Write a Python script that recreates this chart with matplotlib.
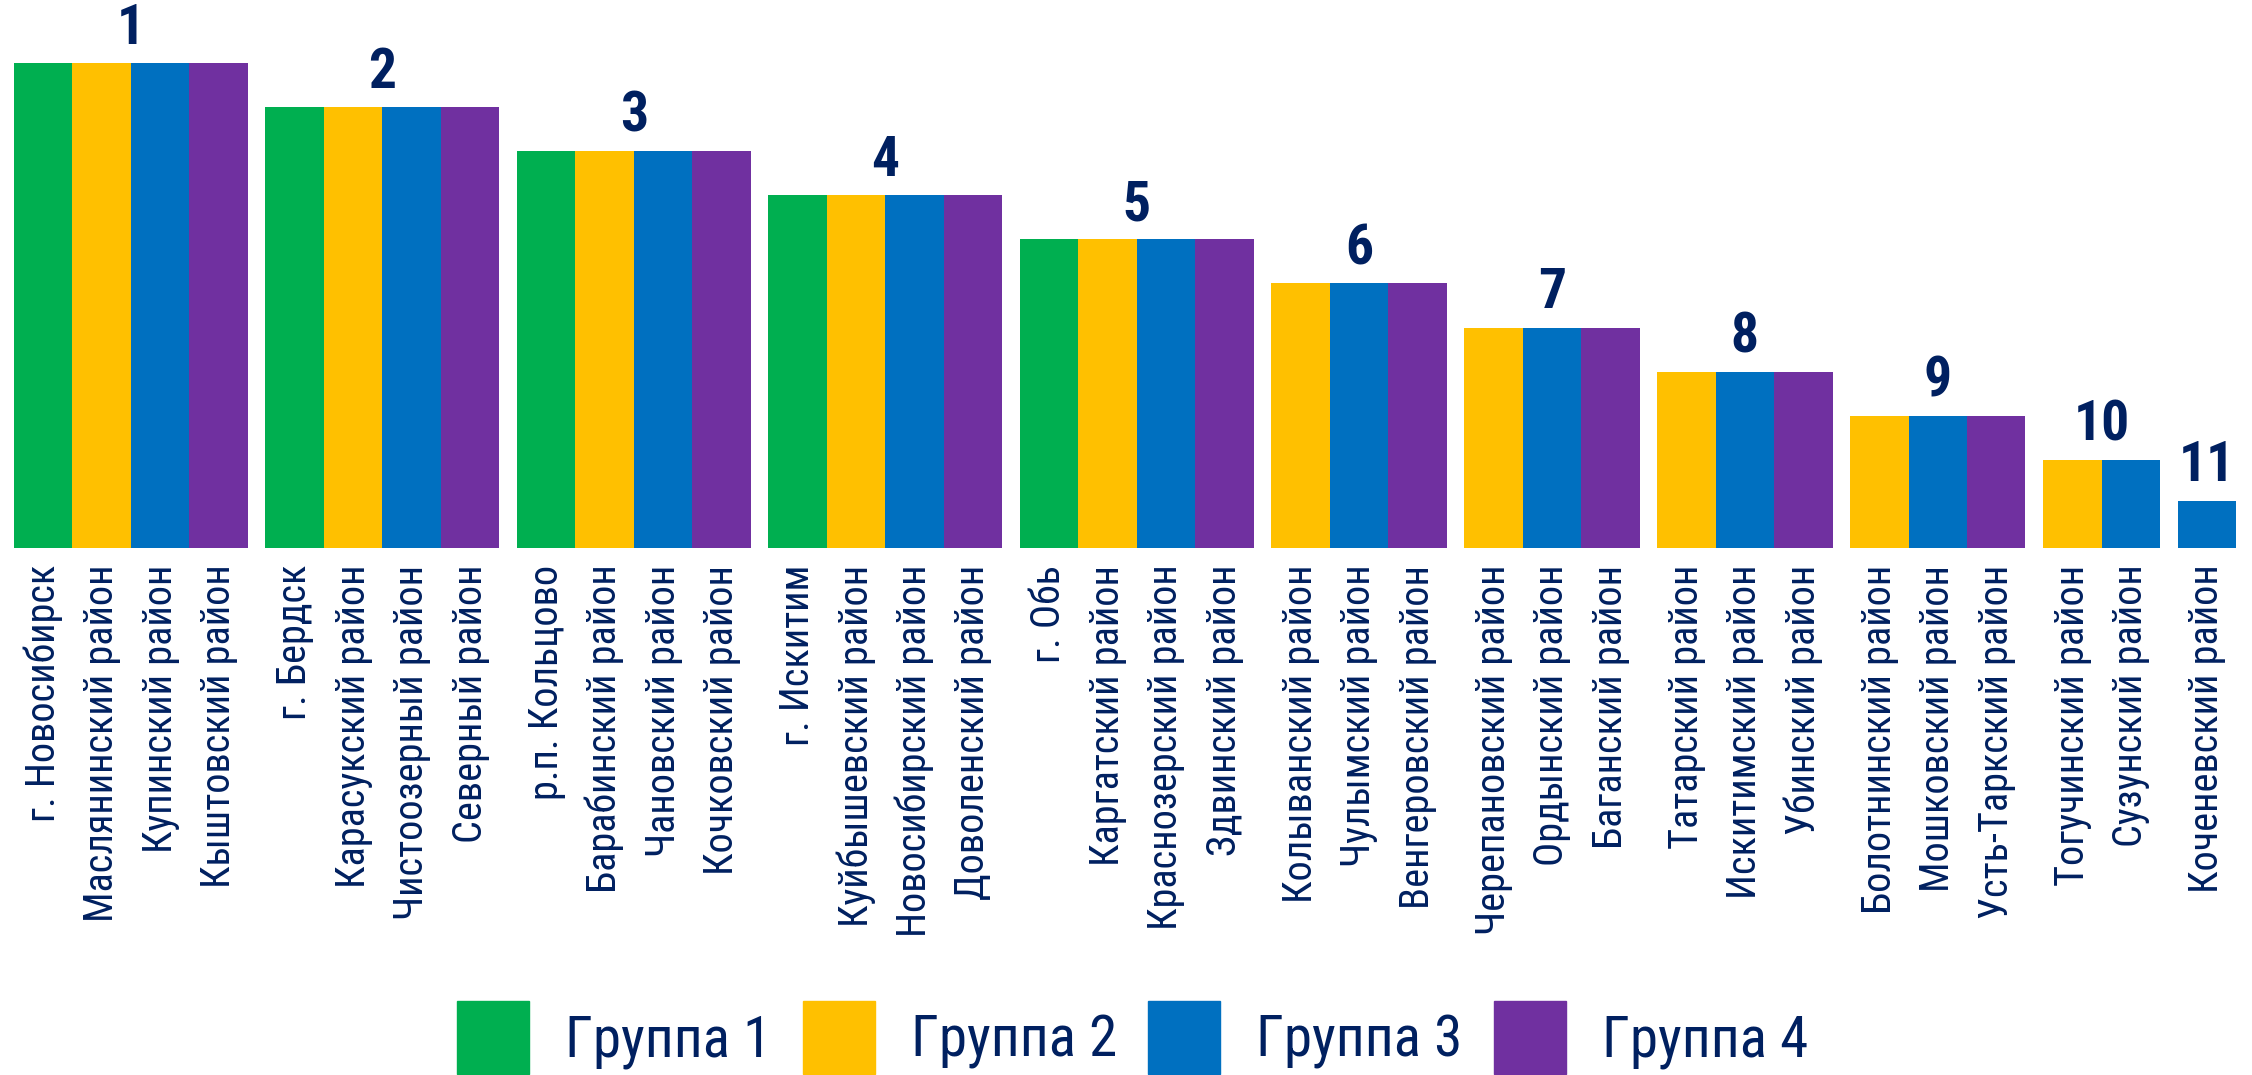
import matplotlib
matplotlib.use("Agg")
import matplotlib.pyplot as plt
from matplotlib import font_manager
from matplotlib.patches import Patch

# --- данные: ранги, высота столбцов ранга, районы и их группы ---
ranks = [1, 2, 3, 4, 5, 6, 7, 8, 9, 10, 11]
rank_values = [11, 10, 9, 8, 7, 6, 5, 4, 3, 2, 1.07]

rank_names = [
    ["г. Новосибирск", "Маслянинский район", "Купинский район", "Кыштовский район"],
    ["г. Бердск", "Карасукский район", "Чистоозерный район", "Северный район"],
    ["р.п. Кольцово", "Барабинский район", "Чановский район", "Кочковский район"],
    ["г. Искитим", "Куйбышевский район", "Новосибирский район", "Доволенский район"],
    ["г. Обь", "Каргатский район", "Краснозерский район", "Здвинский район"],
    ["Колыванский район", "Чулымский район", "Венгеровский район"],
    ["Черепановский район", "Ордынский район", "Баганский район"],
    ["Татарский район", "Искитимский район", "Убинский район"],
    ["Болотнинский район", "Мошковский район", "Усть-Таркский район"],
    ["Тогучинский район", "Сузунский район"],
    ["Коченевский район"],
]
rank_groups = [
    [1, 2, 3, 4], [1, 2, 3, 4], [1, 2, 3, 4], [1, 2, 3, 4], [1, 2, 3, 4],
    [2, 3, 4], [2, 3, 4], [2, 3, 4], [2, 3, 4],
    [2, 3],
    [3],
]
group_labels = ["Группа 1", "Группа 2", "Группа 3", "Группа 4"]
group_colors = {1: "#00AF50", 2: "#FFC000", 3: "#0070C0", 4: "#7030A0"}
NAVY = "#002060"

# шрифт: узкий, если есть
available = {f.name for f in font_manager.fontManager.ttflist}
narrow = None
for name in ["Roboto Condensed", "Liberation Sans Narrow", "Open Sans Condensed", "Noto Sans Condensed"]:
    if name in available:
        narrow = name
        break
if narrow is None:
    narrow = "Roboto"
    label_fs, num_fs, leg_fs = 23, 36, 34
else:
    label_fs, num_fs, leg_fs = 29, 40, 41
plt.rcParams["font.family"] = [narrow, "DejaVu Sans"]

BAR_W = 1.0
GAP = 0.3

fig = plt.figure(figsize=(22.52, 10.75), dpi=100)
ax = fig.add_axes([14 / 2252, 1 - 548 / 1075, 2222 / 2252, (548 - 63) / 1075])

xs, labels = [], []
x = 0.0
for r, val, names, groups in zip(ranks, rank_values, rank_names, rank_groups):
    start = x
    for name, g in zip(names, groups):
        ax.bar(x, val, width=BAR_W, color=group_colors[g], edgecolor="none")
        xs.append(x)
        labels.append(name)
        x += BAR_W
    center = (start + x - BAR_W) / 2
    ax.annotate(str(r), (center, val), xytext=(0, 6), textcoords="offset points",
                ha="center", va="bottom", fontsize=num_fs, fontweight="bold",
                color=NAVY, annotation_clip=False)
    x += GAP

ax.set_xlim(-BAR_W / 2, x - GAP - BAR_W / 2)
ax.set_ylim(0, 11)
ax.set_xticks(xs)
ax.set_xticklabels(labels, rotation=90, fontsize=label_fs, color=NAVY)
ax.tick_params(axis="x", length=0, pad=12)
ax.set_yticks([])
for s in ax.spines.values():
    s.set_visible(False)
ax.patch.set_alpha(0)

handles = [Patch(color=group_colors[i + 1], label=lab) for i, lab in enumerate(group_labels)]
px = leg_fs * 100 / 72
fig.legend(handles=handles, loc="center", bbox_to_anchor=(0.503, 0.035), ncol=4,
           frameon=False, fontsize=leg_fs, labelcolor=NAVY,
           handlelength=72 / px, handleheight=72 / px + 0.35,
           handletextpad=36 / px, columnspacing=0.55)

fig.savefig("out.png", dpi=100, facecolor="white")
